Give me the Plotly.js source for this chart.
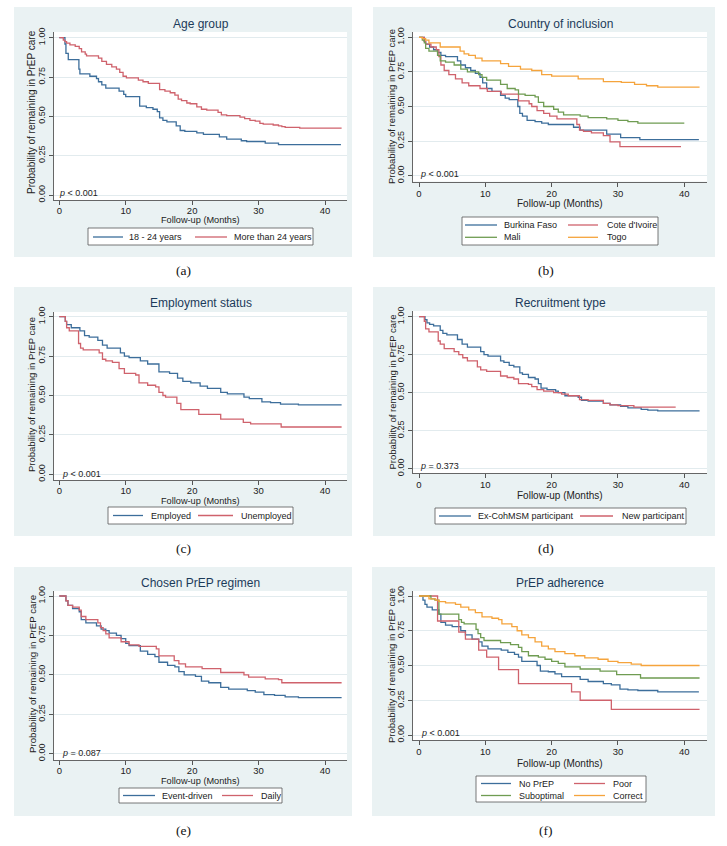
<!DOCTYPE html>
<html><head><meta charset="utf-8">
<script src="https://cdn.plot.ly/plotly-3.0.1.min.js"></script>
<style>html,body{margin:0;padding:0;background:#fff;}</style>
</head><body><div id="chart" style="width:727px;height:846px;"></div>
<script>
// ---------------- DATA ----------------
// (a) Age group
const ageYoungT = [0,0.85,1.0,1.35,2.95,3.1,4.6,5.6,5.9,6.4,7.0,9.0,9.7,10.0,12.1,13.1,14.1,14.75,15.1,15.6,16.2,17.6,18.2,18.9,20.7,21.7,24.1,25.2,27.4,28.2,31.0,33.0,42.4];
const ageYoungS = [1.00,0.96,0.90,0.86,0.80,0.77,0.755,0.74,0.72,0.70,0.68,0.66,0.64,0.625,0.565,0.555,0.545,0.53,0.49,0.475,0.465,0.44,0.41,0.405,0.395,0.385,0.37,0.355,0.345,0.34,0.33,0.32,0.32];
const ageOldT = [0,0.6,0.85,1.1,1.6,2.4,3.0,3.35,3.9,4.1,5.9,6.4,7.1,7.9,8.6,9.1,9.6,10.1,11.9,12.6,13.4,15.1,15.9,16.7,17.4,17.9,18.4,19.2,19.7,20.7,21.4,22.2,23.9,24.4,25.2,27.2,27.9,28.7,29.5,30.2,30.7,32.2,33.0,33.5,34.0,36.2,42.5];
const ageOldS = [1.00,0.985,0.975,0.965,0.955,0.945,0.93,0.91,0.895,0.885,0.87,0.85,0.83,0.815,0.80,0.78,0.755,0.745,0.73,0.72,0.71,0.67,0.66,0.65,0.635,0.61,0.60,0.585,0.58,0.56,0.545,0.54,0.525,0.51,0.505,0.495,0.485,0.475,0.47,0.455,0.45,0.445,0.44,0.435,0.43,0.425,0.425];

// (b) Country of inclusion
const bfT = [0,0.8,1.0,1.6,2.2,2.8,3.3,4.0,5.8,6.3,7.0,7.8,8.5,9.2,9.6,10.2,11.0,12.3,13.0,13.6,14.9,15.2,15.6,16.3,17.5,18.5,19.5,23.3,24.3,28.3,30.4,33.3,42.2];
const bfS = [1.0,0.97,0.95,0.93,0.91,0.89,0.87,0.86,0.83,0.80,0.78,0.76,0.74,0.71,0.67,0.63,0.61,0.58,0.56,0.55,0.50,0.45,0.43,0.40,0.39,0.38,0.37,0.35,0.33,0.30,0.275,0.26,0.26];
const ciT = [0,0.8,1.0,1.8,2.6,3.0,3.3,3.8,4.5,5.5,6.5,7.5,9.2,10.3,12.4,15.0,16.6,17.0,17.8,18.8,19.7,20.8,23.8,24.2,24.8,26.0,27.8,28.8,30.3,39.5];
const ciS = [1.0,0.97,0.95,0.93,0.91,0.86,0.80,0.76,0.73,0.70,0.67,0.65,0.63,0.61,0.59,0.54,0.52,0.50,0.47,0.45,0.43,0.41,0.37,0.33,0.32,0.31,0.29,0.245,0.21,0.21];
const maliT = [0,0.5,0.8,1.0,1.5,2.8,3.2,4.0,5.3,6.3,7.3,9.0,9.5,10.2,12.3,13.3,14.5,15.0,16.0,17.5,18.0,18.8,20.3,21.0,21.8,24.3,25.5,28.3,30.0,31.5,33.0,40.0];
const maliS = [1.0,0.98,0.96,0.92,0.90,0.87,0.83,0.82,0.80,0.77,0.75,0.73,0.71,0.69,0.66,0.63,0.62,0.59,0.58,0.57,0.53,0.50,0.48,0.46,0.44,0.43,0.42,0.41,0.40,0.39,0.38,0.38];
const togoT = [0,0.5,1.0,1.5,3.2,6.2,6.8,7.5,8.5,9.5,12.3,13.5,15.3,17.0,18.5,20.0,24.0,27.8,30.5,32.5,34.3,36.0,42.3];
const togoS = [1.0,0.99,0.98,0.96,0.93,0.90,0.88,0.87,0.85,0.83,0.81,0.79,0.77,0.76,0.73,0.72,0.70,0.68,0.675,0.66,0.65,0.64,0.64];

// (c) Employment status
const empT = [0,0.9,1.1,1.8,3.1,3.8,4.5,5.8,6.5,7.2,9.2,9.8,10.5,12.2,13.3,15.0,16.6,17.8,18.6,19.8,21.2,22.3,24.3,25.3,27.8,28.6,30.5,31.8,33.3,36.0,42.5];
const empS = [1.0,0.97,0.95,0.93,0.91,0.88,0.87,0.85,0.82,0.80,0.77,0.75,0.74,0.72,0.70,0.65,0.64,0.61,0.59,0.58,0.56,0.545,0.52,0.51,0.49,0.48,0.46,0.455,0.445,0.44,0.44];
const unempT = [0,0.9,1.1,1.5,2.9,3.2,3.6,6.0,6.5,7.0,8.0,9.0,9.8,11.5,12.0,13.3,14.5,15.0,15.6,16.0,17.7,18.3,21.0,24.3,27.7,28.8,33.4,42.5];
const unempS = [1.0,0.97,0.93,0.91,0.83,0.80,0.79,0.77,0.73,0.72,0.71,0.67,0.64,0.63,0.58,0.565,0.555,0.52,0.50,0.49,0.45,0.41,0.38,0.35,0.33,0.32,0.30,0.30];

// (d) Recruitment type
const exT = [0,0.9,1.2,1.6,2.2,3.2,3.6,4.2,5.8,6.5,7.3,9.3,9.8,10.4,12.3,12.8,13.6,14.3,15.2,15.6,16.5,17.5,18.0,18.4,19.3,20.6,21.0,22.0,24.0,24.5,25.5,27.8,28.8,30.4,31.5,33.5,34.5,36.0,42.3];
const exS = [1.0,0.98,0.96,0.95,0.94,0.91,0.89,0.88,0.85,0.82,0.80,0.77,0.75,0.74,0.71,0.70,0.68,0.67,0.63,0.62,0.60,0.59,0.56,0.53,0.52,0.51,0.50,0.48,0.47,0.45,0.445,0.43,0.42,0.41,0.40,0.39,0.385,0.38,0.38];
const newT = [0,0.8,1.0,1.5,2.9,3.2,3.8,5.3,6.0,6.6,7.3,8.8,9.3,10.2,12.3,13.3,14.3,15.0,16.5,17.0,17.8,18.8,20.3,21.5,22.5,24.2,25.5,27.8,28.8,30.0,32.4,38.7];
const newS = [1.0,0.97,0.92,0.90,0.84,0.82,0.79,0.77,0.75,0.73,0.71,0.67,0.65,0.64,0.61,0.60,0.59,0.56,0.555,0.54,0.52,0.51,0.50,0.49,0.48,0.455,0.45,0.43,0.42,0.415,0.405,0.405];

// (e) Chosen PrEP regimen
const edT = [0,1.0,1.3,2.0,3.0,3.3,4.0,5.6,6.3,7.0,7.5,8.6,9.3,10.0,10.5,12.2,13.3,14.4,15.0,16.3,17.4,18.0,18.8,20.5,21.4,22.5,24.3,25.5,28.3,29.5,30.8,32.4,34.0,36.0,42.5];
const edS = [1.0,0.97,0.94,0.92,0.90,0.85,0.83,0.81,0.79,0.78,0.765,0.75,0.73,0.70,0.685,0.65,0.63,0.615,0.58,0.56,0.55,0.52,0.50,0.49,0.46,0.45,0.42,0.41,0.40,0.39,0.375,0.37,0.36,0.355,0.355];
const dailyT = [0,1.0,1.3,2.0,3.0,3.3,4.0,5.8,6.2,6.6,7.0,7.5,9.3,10.5,12.0,14.6,15.0,17.3,18.0,19.0,21.5,24.3,27.8,28.5,31.0,33.0,33.5,42.5];
const dailyS = [1.0,0.97,0.94,0.93,0.91,0.87,0.85,0.83,0.80,0.78,0.76,0.735,0.71,0.69,0.68,0.665,0.62,0.59,0.57,0.55,0.54,0.515,0.50,0.485,0.475,0.47,0.45,0.45];

// (f) PrEP adherence
const noPrepT = [0,0.6,0.9,1.2,2.0,3.0,3.3,4.0,5.0,6.3,7.0,8.0,9.0,9.5,10.4,12.4,13.4,14.4,15.0,15.5,17.8,18.3,19.5,20.5,21.5,24.3,25.5,27.8,29.0,30.3,31.5,33.0,36.0,42.2];
const noPrepS = [1.0,0.97,0.94,0.92,0.90,0.87,0.81,0.79,0.78,0.75,0.72,0.69,0.67,0.64,0.62,0.61,0.595,0.58,0.56,0.53,0.50,0.46,0.455,0.44,0.42,0.40,0.385,0.37,0.36,0.33,0.325,0.32,0.31,0.31];
const poorT = [0,2.8,6.0,7.0,9.0,10.2,12.0,15.0,23.0,24.3,29.0,42.3];
const poorS = [1.0,0.82,0.74,0.69,0.61,0.56,0.47,0.37,0.31,0.25,0.185,0.185];
const subT = [0,1.8,2.4,3.0,6.0,6.4,6.8,8.6,8.9,9.3,9.8,12.3,13.8,15.0,15.5,16.5,18.0,19.0,20.0,21.0,22.0,24.3,27.3,29.8,33.4,42.3];
const subS = [1.0,0.98,0.97,0.87,0.83,0.81,0.80,0.76,0.73,0.70,0.68,0.665,0.65,0.63,0.60,0.57,0.56,0.545,0.53,0.515,0.49,0.475,0.46,0.435,0.41,0.41];
const corrT = [0,1.5,2.5,3.0,4.0,5.5,6.3,7.5,8.5,9.5,11.0,12.0,12.5,14.0,14.8,15.5,16.5,17.5,18.5,19.5,20.5,22.0,23.5,25.0,27.0,28.5,30.0,32.0,33.5,42.3];
const corrS = [1.0,0.98,0.97,0.96,0.95,0.94,0.92,0.90,0.88,0.85,0.84,0.83,0.80,0.78,0.75,0.72,0.70,0.67,0.64,0.62,0.60,0.585,0.57,0.555,0.545,0.53,0.52,0.51,0.50,0.50];

const xTicks = [0,10,20,30,40];
const yTicks = [0,0.25,0.5,0.75,1];
const yTickText = ['0.00','0.25','0.50','0.75','1.00'];

const titles = ['Age group','Country of inclusion','Employment status','Recruitment type','Chosen PrEP regimen','PrEP adherence'];
const panelLabels = ['(a)','(b)','(c)','(d)','(e)','(f)'];
const pTexts = ['<i>p</i> &lt; 0.001','<i>p</i> &lt; 0.001','<i>p</i> &lt; 0.001','<i>p</i> = 0.373','<i>p</i> = 0.087','<i>p</i> &lt; 0.001'];
const xTitle = 'Follow-up (Months)';
const yTitle = 'Probability of remaining in PrEP care';

// ---------------- STYLE / GEOMETRY ----------------
const BLUE='#3c6e9b', RED='#cf626c', GREEN='#6f9c52', ORANGE='#f5a43c';
const W=727, H=846;
const FONT='Liberation Sans, Arial, sans-serif';

const panels = [
 {series:[{n:'18 - 24 years',t:ageYoungT,s:ageYoungS,c:BLUE},{n:'More than 24 years',t:ageOldT,s:ageOldS,c:RED}],
  bg:[14,352,7,257], box:[54,347,32,200], x0:59.3,x40:325, y1:37.7,y0:195,
  titleY:24, xtY:220, xtSize:9.2, tkOff:-2, ytX:32, ytY:112, ytSize:10, pX:57, pY:193,
  legBox:[88,313,228,245], leg:[[93,123,127,237],[195,227,232,237]], lab:[183,270]},
 {series:[{n:'Burkina Faso',t:bfT,s:bfS,c:BLUE},{n:"Cote d'Ivoire",t:ciT,s:ciS,c:RED},{n:'Mali',t:maliT,s:maliS,c:GREEN},{n:'Togo',t:togoT,s:togoS,c:ORANGE}],
  bg:[373,715,7,257], box:[413,707,32,181.5], x0:419,x40:684.3, y1:37.3,y0:175.7,
  titleY:24, xtY:203.5, xtSize:10, tkOff:-1, ytX:391, ytY:107, ytSize:9.5, pX:418, pY:174,
  legBox:[462,658,217,245], leg:[[465,497,502,225],[568,598,605,225],[465,497,502,237.3],[568,598,605,237.3]], lab:[546,270]},
 {series:[{n:'Employed',t:empT,s:empS,c:BLUE},{n:'Unemployed',t:unempT,s:unempS,c:RED}],
  bg:[14,352,287,536], box:[54,347,312,480], x0:59.3,x40:325, y1:316.7,y0:474.3,
  titleY:303, xtY:500.5, xtSize:9.2, tkOff:-2, ytX:32, ytY:395, ytSize:9.5, pX:60, pY:474,
  legBox:[108,293,507,524], leg:[[113,143,149,515.5],[198,233,239,515.5]], lab:[183,548]},
 {series:[{n:'Ex-CohMSM participant',t:exT,s:exS,c:BLUE},{n:'New participant',t:newT,s:newS,c:RED}],
  bg:[373,715,287,536], box:[413,707,311,473], x0:419,x40:684.3, y1:316.7,y0:468.7,
  titleY:303, xtY:496, xtSize:10, tkOff:-1, ytX:391.5, ytY:392, ytSize:9.5, pX:418, pY:466,
  legBox:[435,686,508,524], leg:[[439,471,476,516],[580,613,620,516]], lab:[546,548]},
 {series:[{n:'Event-driven',t:edT,s:edS,c:BLUE},{n:'Daily',t:dailyT,s:dailyS,c:RED}],
  bg:[14,352,567,816], box:[54,347,591,760], x0:59.3,x40:325, y1:596,y0:753.7,
  titleY:583, xtY:780.5, xtSize:9.2, tkOff:-2, ytX:32, ytY:674, ytSize:9.7, pX:60, pY:752.5,
  legBox:[119,282,788,803], leg:[[123,155,160,795.5],[222,253,259,795.5]], lab:[183,830]},
 {series:[{n:'No PrEP',t:noPrepT,s:noPrepS,c:BLUE},{n:'Poor',t:poorT,s:poorS,c:RED},{n:'Suboptimal',t:subT,s:subS,c:GREEN},{n:'Correct',t:corrT,s:corrS,c:ORANGE}],
  bg:[372,715,567,816], box:[413,707,591,740], x0:419,x40:684.3, y1:596,y0:735,
  titleY:583, xtY:763, xtSize:10, tkOff:-1, ytX:391, ytY:666, ytSize:9.5, pX:419, pY:733,
  legBox:[476,646,776,802], leg:[[481,511,517,783.5],[574,605,611,783.5],[481,511,517,795.5],[574,605,611,795.5]], lab:[546,830]}
];

const PX = v => v / W;
const PY = v => 1 - v / H;

const traces = [], shapes = [], annotations = [];
const layout = {
  width: W, height: H, margin:{l:0,r:0,t:0,b:0},
  paper_bgcolor:'#ffffff', plot_bgcolor:'rgba(0,0,0,0)',
  showlegend:false, font:{family:FONT, size:9.5, color:'#222'},
  shapes, annotations
};

panels.forEach((p, i) => {
  const k = i === 0 ? '' : String(i + 1);
  const [bl, br, bt, bb] = p.box;
  const ppx = (p.x40 - p.x0) / 40;
  const ppy = (p.y0 - p.y1);
  const xr = [(bl - p.x0) / ppx, (br - p.x0) / ppx];
  const yr = [(p.y0 - bb) / ppy, (p.y0 - bt) / ppy];

  shapes.push({type:'rect', xref:'paper', yref:'paper', layer:'below',
    x0:PX(p.bg[0]), x1:PX(p.bg[1]), y0:PY(p.bg[3]), y1:PY(p.bg[2]),
    fillcolor:'#eaf2f3', line:{width:0}});
  shapes.push({type:'rect', xref:'paper', yref:'paper', layer:'below',
    x0:PX(bl), x1:PX(br), y0:PY(bb), y1:PY(bt),
    fillcolor:'#ffffff', line:{width:0}});

  layout['xaxis' + k] = {
    domain:[PX(bl), PX(br)], anchor:'y' + k, range:xr,
    tickmode:'array', tickvals:xTicks, ticktext:xTicks.map(String),
    ticks:'outside', ticklen:4, tickwidth:1, tickcolor:'#555', ticklabelstandoff:p.tkOff,
    showline:true, linecolor:'#666', linewidth:1, showgrid:false, zeroline:false,
    tickfont:{family:FONT, size:9.5, color:'#222'}, fixedrange:true
  };
  layout['yaxis' + k] = {
    domain:[PY(bb), PY(bt)], anchor:'x' + k, range:yr,
    tickmode:'array', tickvals:yTicks, ticktext:yTickText, tickangle:-90,
    ticks:'outside', ticklen:4, tickwidth:1, tickcolor:'#555',
    showline:true, linecolor:'#666', linewidth:1,
    showgrid:true, gridcolor:'#e2ebee', gridwidth:1, zeroline:false,
    tickfont:{family:FONT, size:9, color:'#222'}, fixedrange:true
  };

  p.series.forEach(s => {
    traces.push({x:s.t, y:s.s, type:'scatter', mode:'lines', name:s.n,
      xaxis:'x' + k, yaxis:'y' + k, line:{shape:'hv', color:s.c, width:1.3},
      hoverinfo:'skip'});
  });

  const cx = (bl + br) / 2;
  annotations.push({text:titles[i], xref:'paper', yref:'paper', x:PX(cx), y:PY(p.titleY),
    xanchor:'center', yanchor:'middle', showarrow:false, font:{family:FONT, size:12, color:'#1c3b5a'}});
  annotations.push({text:xTitle, xref:'paper', yref:'paper', x:PX(cx), y:PY(p.xtY),
    xanchor:'center', yanchor:'middle', showarrow:false, font:{family:FONT, size:p.xtSize, color:'#222'}});
  annotations.push({text:yTitle, xref:'paper', yref:'paper', x:PX(p.ytX), y:PY(p.ytY), textangle:-90,
    xanchor:'center', yanchor:'middle', showarrow:false, font:{family:FONT, size:p.ytSize, color:'#222'}});
  annotations.push({text:pTexts[i], xref:'paper', yref:'paper', x:PX(p.pX), y:PY(p.pY),
    xanchor:'left', yanchor:'middle', showarrow:false, font:{family:FONT, size:9, color:'#222'}});
  annotations.push({text:panelLabels[i], xref:'paper', yref:'paper', x:PX(p.lab[0]), y:PY(p.lab[1]),
    xanchor:'center', yanchor:'middle', showarrow:false, font:{family:'Liberation Serif, Times New Roman, serif', size:13.5, color:'#111'}});

  const lb = p.legBox;
  shapes.push({type:'rect', xref:'paper', yref:'paper', layer:'above',
    x0:PX(lb[0]), x1:PX(lb[1]), y0:PY(lb[3]), y1:PY(lb[2]),
    fillcolor:'#ffffff', line:{color:'#555', width:0.8}});
  p.series.forEach((s, j) => {
    const e = p.leg[j];
    shapes.push({type:'line', xref:'paper', yref:'paper', layer:'above',
      x0:PX(e[0]), x1:PX(e[1]), y0:PY(e[3]), y1:PY(e[3]), line:{color:s.c, width:1.3}});
    annotations.push({text:s.n, xref:'paper', yref:'paper', x:PX(e[2]), y:PY(e[3]),
      xanchor:'left', yanchor:'middle', showarrow:false, font:{family:FONT, size:9, color:'#222'}});
  });
});

Plotly.newPlot('chart', traces, layout, {staticPlot:true, displayModeBar:false});
</script></body></html>
